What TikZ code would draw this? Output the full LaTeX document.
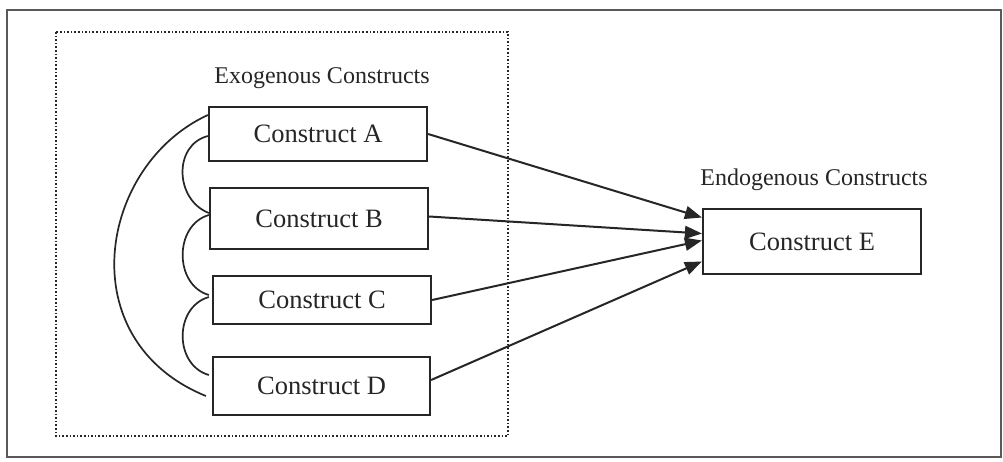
\documentclass[tikz,border=0pt]{standalone}
\usepackage{fontspec}
\setmainfont{Liberation Serif}
\usetikzlibrary{arrows.meta}
\begin{document}
\begin{tikzpicture}[x=1pt,y=-1pt,
  cbox/.style={draw=black!85, line width=2.2pt, minimum width=218pt, inner sep=0pt,
    font=\fontsize{26.5}{30}\selectfont, text=black!85},
  title/.style={font=\fontsize{24}{28}\selectfont, text=black!85, inner sep=0pt},
  link/.style={draw=black!85, line width=2pt, -{Triangle[length=17pt,width=13pt]}},
  corr/.style={draw=black!85, line width=1.7pt}]
\useasboundingbox (0,0) rectangle (1003,461);
\fill[white] (0,0) rectangle (1003,461);
% outer frame
\draw[black!65, line width=1.8pt] (7,10) rectangle (1001,457);
% dotted exogenous area
\draw[black!85, line width=2.4pt, dash pattern=on 1.6pt off 2pt] (56,32) rectangle (508,436);
\node[title] (exo) at (322,78) {Exogenous Constructs};
\node[title] (endo) at (814,180) {Endogenous Constructs};
% boxes
\node[cbox, minimum height=54pt] (A) at (318,134) {Construct A};
\node[cbox, minimum height=61pt] (B) at (319,218.5) {Construct B};
\node[cbox, minimum height=48pt] (C) at (322,300) {Construct C};
\node[cbox, minimum height=58pt, minimum width=217pt] (D) at (321.5,386) {Construct D};
\node[cbox, minimum height=65pt] (E) at (812,241.5) {Construct E};
% arrows
\draw[link] (A.east) -- ([yshift=24pt]E.west);
\draw[link] ([yshift=2pt]B.east) -- ([yshift=8pt]E.west);
\draw[link] (C.east) -- ([yshift=1pt]E.west);
\draw[link] ([yshift=6pt]D.east) -- ([yshift=-20pt]E.west);
% correlations
\draw[corr] ([yshift=-2pt]A.west) .. controls +(-35,9) and +(-34,-13) .. ([yshift=5.5pt]B.west);
\draw[corr] ([yshift=3.5pt]B.west) .. controls +(-35,10) and +(-35,-10) .. ([xshift=-3pt,yshift=5pt]C.west);
\draw[corr] ([xshift=-3pt,yshift=3pt]C.west) .. controls +(-35,10) and +(-35,-10) .. ([xshift=-3pt,yshift=11pt]D.west);
\draw[corr] ([yshift=19pt]A.west) .. controls +(-109,50) and +(-137,-56) .. ([xshift=-6pt,yshift=-10pt]D.west);
\end{tikzpicture}
\end{document}
